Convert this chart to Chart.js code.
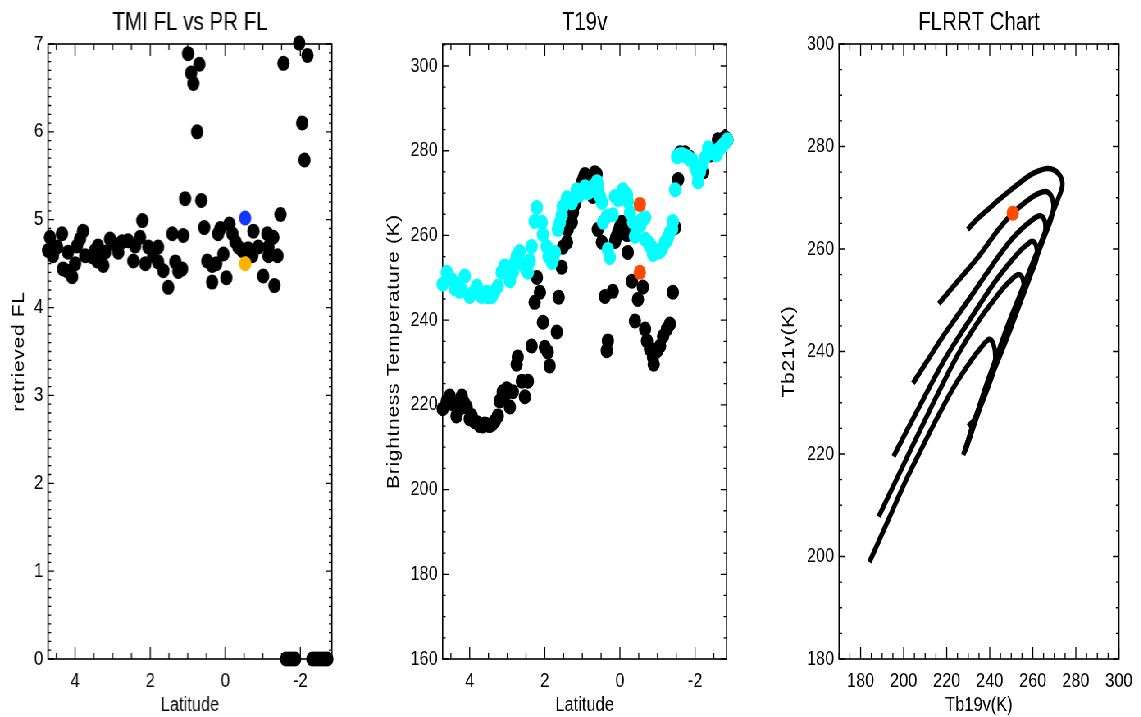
<!DOCTYPE html>
<html>
<head>
<meta charset="utf-8">
<script src="https://cdn.jsdelivr.net/npm/chart.js@4.4.1/dist/chart.umd.min.js"></script>
<style>
  html, body { margin: 0; padding: 0; background: #fff; overflow: hidden; width: 1141px; height: 717px; }
  /* the original plot is drawn with narrow type and slightly tall dots: squeeze horizontally */
  #page { position: absolute; left: 0; top: 0; width: 1391.5px; height: 717px; transform: scaleX(0.82); transform-origin: 0 0; }
  .panel { position: absolute; top: 0; height: 717px; }
</style>
</head>
<body>
<div id="page">
  <div class="panel" style="left:0;width:414.6px"><canvas id="flChart"></canvas></div>
  <div class="panel" style="left:463.4px;width:439px"><canvas id="tbChart"></canvas></div>
  <div class="panel" style="left:926.8px;width:464.7px"><canvas id="flrrtChart"></canvas></div>
</div>
<script>
// --- panel 1: retrieved freezing level along the track
var flLat = [4.72, 4.67, 4.59, 4.48, 4.35, 4.32, 4.19, 4.19, 4.08, 4.00,
  3.95, 3.87, 3.79, 3.73, 3.55, 3.47, 3.41, 3.39, 3.25, 3.20,
  3.07, 2.99, 2.85, 2.75, 2.59, 2.45, 2.40, 2.27, 2.21, 2.13,
  2.05, 1.92, 1.79, 1.79, 1.65, 1.52, 1.41, 1.33, 1.25, 1.15,
  1.12, 1.07, 0.99, 0.91, 0.85, 0.75, 0.69, 0.64, 0.56, 0.48,
  0.35, 0.35, 0.24, 0.19, 0.13, 0.05, -0.03, -0.11, -0.19, -0.27,
  -0.35, -0.45, -0.61, -0.72, -0.75, -0.88, -1.01, -1.12, -1.15, -1.15,
  -1.28, -1.31, -1.39, -1.47, -1.55, -1.97, -2.05, -2.11, -2.19,
  -1.62, -1.70, -1.78, -1.86, -2.32, -2.40, -2.48, -2.56, -2.64, -2.72];
var flValue = [4.65, 4.80, 4.59, 4.69, 4.84, 4.44, 4.63, 4.41, 4.35, 4.50,
  4.70, 4.78, 4.87, 4.59, 4.58, 4.65, 4.53, 4.70, 4.48, 4.63,
  4.78, 4.73, 4.63, 4.75, 4.76, 4.53, 4.70, 4.80, 4.99, 4.50,
  4.69, 4.59, 4.69, 4.52, 4.42, 4.23, 4.84, 4.52, 4.41, 4.44,
  4.82, 5.24, 6.89, 6.67, 6.55, 6.00, 6.77, 5.22, 4.91, 4.53,
  4.48, 4.29, 4.50, 4.84, 4.90, 4.61, 4.34, 4.95, 4.84, 4.75,
  4.69, 4.65, 4.67, 4.59, 4.87, 4.69, 4.36, 4.84, 4.69, 4.59,
  4.80, 4.25, 4.59, 5.06, 6.78, 7.01, 6.10, 5.68, 6.87,
  0, 0, 0, 0, 0, 0, 0, 0, 0, 0];
var tmiLat = [-0.53], tmiFL = [5.02];
var prLat = [-0.53], prFL = [4.50];

// --- panel 2: 19v brightness temperature (black = observed, cyan = second series)
var tbLat = [4.72, 4.61, 4.53, 4.45, 4.35, 4.28, 4.21, 4.15, 4.08, 4.00,
  3.95, 3.87, 3.80, 3.73, 3.65, 3.60, 3.55, 3.47, 3.40, 3.33,
  3.25, 3.20, 3.15, 3.12, 3.05, 3.01, 2.93, 2.85, 2.75, 2.72,
  2.61, 2.53, 2.45, 2.35, 2.27, 2.21, 2.13, 2.05, 2.00, 1.92,
  1.87, 1.68, 1.63, 1.55, 1.52, 1.41, 1.39, 1.28, 1.25, 1.20,
  1.12, 1.05, 1.01, 0.97, 0.93, 0.85, 0.80, 0.75, 0.72, 0.67,
  0.62, 0.59, 0.48, 0.40, 0.35, 0.32, 0.19, 0.13, 0.10, 0.05,
  0.00, -0.05, -0.10, -0.13, -0.19, -0.21, -0.32, -0.40, -0.48, -0.61,
  -0.67, -0.72, -0.80, -0.88, -0.90, -0.99, -1.07, -1.15, -1.25, -1.33,
  -1.41, -1.47, -1.55, -1.60, -1.73, -1.85, -2.19, -2.22, -2.40, -2.50,
  -2.61, -2.72, -2.80, -2.86];
var tbBlack = [219.1, 220.9, 222.1, 220.2, 217.4, 219.0, 222.1, 220.5, 219.5, 216.7,
  217.5, 216.0, 215.8, 215.1, 215.0, 215.5, 215.3, 215.1, 215.5, 216.2,
  217.4, 220.9, 221.5, 223.1, 222.5, 223.8, 219.5, 223.1, 229.6, 231.3,
  225.6, 221.9, 225.6, 233.9, 244.2, 250.1, 246.6, 239.5, 233.6, 232.5,
  229.2, 237.2, 245.4, 252.5, 257.2, 258.4, 261.4, 263.1, 265.4, 267.3,
  269.2, 271.0, 272.5, 273.5, 274.4, 273.9, 272.5, 270.5, 269.2, 274.8,
  274.5, 261.4, 258.4, 245.6, 232.8, 235.1, 246.8, 258.6, 259.5, 260.7,
  262.0, 263.1, 262.5, 261.4, 260.2, 256.0, 249.2, 239.8, 244.9, 247.8,
  237.9, 235.1, 233.2, 231.3, 229.6, 232.8, 233.9, 236.2, 237.9, 239.1,
  246.6, 261.9, 273.2, 279.5, 279.5, 278.5, 276.2, 275.0, 279.0, 280.2,
  282.6, 282.0, 283.1, 282.6];
var cyanLat = [4.72, 4.61, 4.55, 4.48, 4.40, 4.32, 4.27, 4.20, 4.13, 4.00,
  3.90, 3.81, 3.68, 3.60, 3.55, 3.50, 3.41, 3.33, 3.25, 3.15,
  3.07, 3.00, 2.93, 2.85, 2.80, 2.75, 2.67, 2.59, 2.50, 2.45,
  2.40, 2.35, 2.27, 2.21, 2.08, 2.05, 1.95, 1.90, 1.87, 1.81,
  1.78, 1.73, 1.65, 1.60, 1.55, 1.52, 1.41, 1.35, 1.28, 1.20,
  1.15, 1.07, 1.00, 0.93, 0.85, 0.78, 0.72, 0.61, 0.58, 0.53,
  0.48, 0.45, 0.35, 0.32, 0.27, 0.19, 0.13, 0.05, -0.08, -0.13,
  -0.19, -0.21, -0.27, -0.35, -0.40, -0.48, -0.55, -0.59, -0.67, -0.67,
  -0.75, -0.80, -0.85, -0.88, -0.99, -1.07, -1.13, -1.20, -1.25, -1.28,
  -1.33, -1.39, -1.41, -1.47, -1.52, -1.58, -1.65, -1.70, -1.79, -1.85,
  -1.92, -2.00, -2.05, -2.08, -2.13, -2.19, -2.27, -2.35, -2.40, -2.45,
  -2.53, -2.57, -2.61, -2.66, -2.72, -2.76, -2.80, -2.86];
var tbCyan = [248.5, 251.3, 250.0, 249.6, 247.5, 248.5, 246.8, 247.0, 250.4, 245.6,
  246.5, 248.0, 245.6, 246.0, 246.6, 245.5, 245.6, 246.8, 248.0, 251.3,
  252.8, 251.0, 249.3, 251.3, 253.5, 255.1, 256.2, 253.2, 252.0, 251.3,
  254.0, 257.4, 263.3, 266.6, 263.1, 260.2, 257.4, 255.0, 256.0, 253.6,
  254.5, 256.0, 261.4, 263.0, 264.9, 266.8, 268.9, 268.5, 267.7, 269.0,
  270.8, 269.6, 270.5, 271.5, 270.1, 270.5, 271.5, 272.7, 271.5, 269.2,
  267.8, 263.1, 264.5, 256.7, 254.8, 264.9, 269.2, 268.5, 270.8, 270.0,
  269.6, 268.0, 265.4, 263.1, 259.8, 262.1, 262.5, 263.8, 264.2, 259.1,
  258.4, 257.5, 257.2, 255.5, 256.0, 256.2, 257.0, 258.4, 258.8, 259.5,
  260.7, 261.4, 263.3, 270.8, 278.6, 279.0, 279.1, 278.9, 278.6, 278.0,
  277.9, 276.2, 275.1, 272.7, 275.0, 276.7, 278.4, 280.7, 280.0, 279.5,
  279.5, 279.0, 280.2, 280.5, 281.0, 281.5, 281.9, 282.6];
var redLat = [-0.53, -0.53], tbRed = [267.3, 251.3];

// --- panel 3: FLRRT lookup curves, one per freezing level (Tb19v, Tb21v)
var fl1Tb19 = [229.7, 234.0, 239.2, 244.5, 250.0, 254.5, 259.0, 263.0, 266.5, 269.5, 272.0, 273.5, 273.7,
  271.5, 268.0, 263.5, 258.5, 253.5, 248.5, 244.5, 241.5, 238.7, 235.8, 232.3, 229.8, 227.7];
var fl1Tb21 = [263.8, 265.8, 267.7, 269.7, 271.6, 273.1, 274.5, 275.3, 275.7, 275.5, 274.7, 273.5, 272.2,
  269.5, 265.8, 261.0, 255.8, 250.5, 245.3, 240.6, 237.0, 233.5, 229.8, 226.0, 222.5, 219.8];
var fl2Tb19 = [216.3, 225.5, 234.6, 243.8, 250.7, 257.6, 262.5, 266.0, 268.3, 269.6,
  268.6, 265.0, 260.5, 255.5, 250.5, 246.0, 242.5, 239.5, 236.5, 233.0, 230.5, 228.2];
var fl2Tb21 = [249.3, 253.9, 258.4, 263.7, 267.0, 269.5, 270.8, 271.2, 270.5, 268.6,
  266.0, 262.0, 257.0, 251.7, 246.5, 241.5, 237.5, 234.0, 230.3, 226.3, 223.0, 220.3];
var fl3Tb19 = [204.3, 211.0, 218.0, 225.0, 232.0, 238.5, 244.5, 250.0, 255.0, 259.5, 263.0, 265.0, 265.9, 265.5,
  263.2, 259.5, 255.0, 250.3, 245.8, 242.0, 239.0, 236.2, 233.2, 230.8, 228.5];
var fl3Tb21 = [233.8, 238.2, 242.8, 247.0, 251.2, 255.2, 258.8, 261.8, 264.0, 265.6, 266.5, 266.0, 264.5, 262.8,
  260.5, 256.5, 251.5, 246.5, 241.7, 237.6, 234.2, 230.6, 226.8, 223.6, 220.6];
var fl4Tb19 = [195.3, 201.0, 207.0, 213.0, 219.0, 225.5, 232.0, 238.0, 244.0, 249.5, 254.5, 257.5, 259.5, 261.2, 262.0, 261.6,
  259.5, 255.5, 251.0, 246.5, 242.5, 239.3, 236.5, 233.5, 231.0, 228.7];
var fl4Tb21 = [219.5, 224.2, 229.0, 233.8, 238.4, 242.8, 247.0, 250.9, 254.5, 257.4, 259.8, 260.9, 261.5, 261.0, 259.5, 257.8,
  255.5, 251.0, 246.3, 241.9, 237.9, 234.4, 231.0, 227.2, 224.0, 221.0];
var fl5Tb19 = [188.4, 192.5, 196.5, 203.0, 210.0, 217.0, 223.9, 230.0, 236.0, 241.5, 246.5, 250.5, 253.0, 254.8, 255.8, 255.5,
  253.5, 250.0, 246.5, 243.0, 239.8, 237.0, 234.0, 231.4, 229.0];
var fl5Tb21 = [207.8, 211.4, 214.9, 220.6, 226.7, 232.7, 238.4, 242.8, 246.7, 249.8, 252.5, 254.2, 255.0, 254.7, 253.3, 251.3,
  248.8, 244.8, 241.0, 237.4, 234.0, 230.8, 227.2, 224.0, 221.0];
var fl6Tb19 = [184.1, 192.5, 201.1, 208.5, 216.0, 223.5, 231.6, 236.0, 239.8, 241.8, 242.6, 241.6, 239.2, 236.2, 233.0, 230.0];
var fl6Tb21 = [198.9, 206.8, 214.9, 221.2, 227.4, 233.2, 238.4, 240.8, 242.4, 241.3, 238.8, 236.0, 233.0, 229.8, 226.8, 225.4];
var obsTb19 = [250.7], obsTb21 = [267.0];

var FONT = "'Liberation Sans', Arial, sans-serif";
var SX = 0.82; // horizontal squeeze of #page, used to keep x-lengths right

function pts(xs, ys) {
  return xs.map(function (x, i) { return {x: x, y: ys[i]}; });
}

// box round the plot area with inward tick marks, like the original plots
var frameTicks = {
  id: 'frameTicks',
  beforeDatasetsDraw: function (chart, args, opts) {
    var ctx = chart.ctx, a = chart.chartArea;
    var sx = chart.scales.x, sy = chart.scales.y;
    ctx.save();
    ctx.strokeStyle = '#000';
    ctx.lineWidth = 1.6;
    ctx.strokeRect(a.left, a.top, a.right - a.left, a.bottom - a.top);
    ctx.lineWidth = 1.3;
    ctx.beginPath();
    function marks(scale, major, minor, draw) {
      var lo = Math.min(scale.min, scale.max), hi = Math.max(scale.min, scale.max);
      for (var k = Math.ceil(lo / minor - 1e-6); k * minor <= hi + 1e-6; k++) {
        var v = k * minor;
        draw(scale.getPixelForValue(v), Math.abs(v / major - Math.round(v / major)) < 1e-6);
      }
    }
    marks(sx, opts.x[0], opts.x[1], function (p, big) {
      var L = big ? 12 : 6;
      ctx.moveTo(p, a.bottom); ctx.lineTo(p, a.bottom - L);
      ctx.moveTo(p, a.top); ctx.lineTo(p, a.top + L);
    });
    marks(sy, opts.y[0], opts.y[1], function (p, big) {
      var L = (big ? 6 : 3) / SX;
      ctx.moveTo(a.left, p); ctx.lineTo(a.left + L, p);
      ctx.moveTo(a.right, p); ctx.lineTo(a.right - L, p);
    });
    ctx.stroke();
    ctx.restore();
  },
  // the y titles (z = 1 layer) are drawn a little spaced out, as in the original
  afterDatasetsDraw: function (chart) { chart.ctx.letterSpacing = '0.7px'; },
  afterDraw: function (chart) { chart.ctx.letterSpacing = '0px'; }
};
Chart.register(frameTicks);

function xAxis(text, min, max, step, reverse) {
  return {
    type: 'linear', min: min, max: max, reverse: reverse,
    grid: {display: false, drawTicks: false},
    border: {display: false},
    ticks: {stepSize: step, includeBounds: false, padding: 10.5, maxRotation: 0, autoSkip: false,
      color: '#000', font: {family: FONT, size: 20}},
    title: {display: true, text: text, color: '#000', font: {family: FONT, size: 20}, padding: {top: 0, bottom: 0}},
    afterFit: function (s) { s.height = 58; }
  };
}

function yAxis(text, min, max, step, width, pad) {
  return {
    type: 'linear', min: min, max: max,
    grid: {display: false, drawTicks: false, z: 1},
    border: {display: false},
    ticks: {stepSize: step, includeBounds: false, padding: 6, autoSkip: false,
      color: '#000', font: {family: FONT, size: 20}},
    title: {display: true, text: text, color: '#000', font: {family: FONT, size: 21}, padding: {top: pad, bottom: 0}},
    afterFit: function (s) { s.width = width; }
  };
}

function baseOptions(title, padRight, scales, ticks) {
  return {
    responsive: true, maintainAspectRatio: false, animation: false, events: [],
    layout: {padding: {left: 0, right: padRight, top: 0, bottom: 0}},
    scales: scales,
    plugins: {
      legend: {display: false},
      tooltip: {enabled: false},
      title: {display: true, text: title, fullSize: false, color: '#000',
        font: {family: FONT, size: 25, weight: 'normal'}, padding: {top: 8, bottom: 6}},
      frameTicks: ticks
    }
  };
}

function dots(data, color) {
  return {data: data, pointRadius: 7.5, pointBorderWidth: 0, pointBackgroundColor: color, clip: false};
}

// TMI FL vs PR FL
new Chart(document.getElementById('flChart'), {
  type: 'scatter',
  data: {datasets: [
    dots(pts(tmiLat, tmiFL), '#1038ff'),
    dots(pts(prLat, prFL), '#ffb300'),
    dots(pts(flLat, flValue), '#000')
  ]},
  options: baseOptions('TMI FL vs PR FL', 10.9, {
    x: xAxis('Latitude', -2.84, 4.72, 2, true),
    y: yAxis('retrieved FL', 0, 7, 1, 58.5, 10.6)
  }, {x: [2, 0.5], y: [1, 0.1]})
});

// T19v
new Chart(document.getElementById('tbChart'), {
  type: 'scatter',
  data: {datasets: [
    dots(pts(redLat, tbRed), '#ff4a00'),
    dots(pts(cyanLat, tbCyan), '#00ffff'),
    dots(pts(tbLat, tbBlack), '#000')
  ]},
  options: baseOptions('T19v', 15.9, {
    x: xAxis('Latitude', -2.84, 4.72, 2, true),
    y: yAxis('Brightness Temperature (K)', 160, 305.2, 20, 76.8, 4.5)
  }, {x: [2, 0.5], y: [20, 5]})
});

// FLRRT Chart
function curve(xs, ys) {
  return {data: pts(xs, ys), showLine: true, borderColor: '#000', borderWidth: 5.5,
    pointRadius: 0, tension: 0.35, fill: false};
}
new Chart(document.getElementById('flrrtChart'), {
  type: 'scatter',
  data: {datasets: [
    dots(pts(obsTb19, obsTb21), '#ff4a00'),
    curve(fl1Tb19, fl1Tb21),
    curve(fl2Tb19, fl2Tb21),
    curve(fl3Tb19, fl3Tb21),
    curve(fl4Tb19, fl4Tb21),
    curve(fl5Tb19, fl5Tb21),
    curve(fl6Tb19, fl6Tb21)
  ]},
  options: baseOptions('FLRRT Chart', 23.2, {
    x: xAxis('Tb19v(K)', 170, 300, 20, false),
    y: yAxis('Tb21v(K)', 180, 300, 20, 96.3, 22.8)
  }, {x: [20, 5], y: [20, 5]})
});
</script>
</body>
</html>
